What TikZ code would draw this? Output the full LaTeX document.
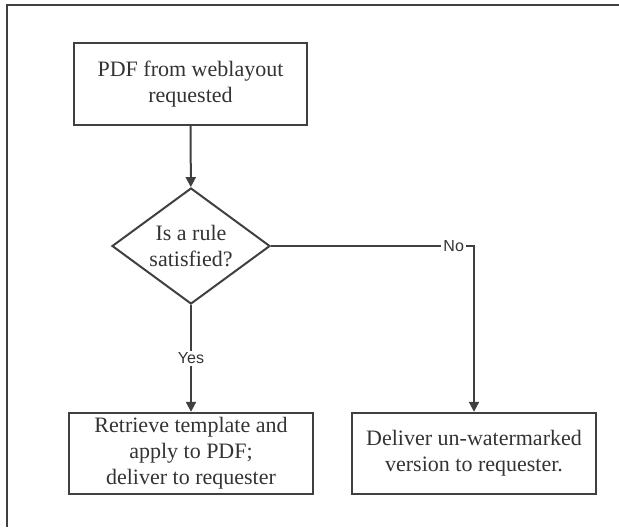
\documentclass[tikz,border=0pt]{standalone}
\usepackage{fontspec}
\setmainfont{Liberation Serif}
\setsansfont{Liberation Sans}
\usepackage{tikz}
\usetikzlibrary{arrows.meta, positioning, shapes.geometric}

\definecolor{linegray}{HTML}{404040}
\definecolor{textgray}{HTML}{333333}

\tikzset{
  stepbox/.style={draw=linegray, line width=1.2pt, align=center, text=textgray,
    minimum width=120pt, minimum height=40.5pt, inner sep=0pt,
    font=\fontsize{11}{13}\selectfont},
  decision/.style={diamond, draw=linegray, line width=1pt, align=center, text=textgray,
    aspect=1.5, inner sep=0pt, minimum width=79pt, minimum height=58pt,
    font=\fontsize{11}{13}\selectfont},
  flow/.style={draw=linegray, line width=1pt, -{Triangle[width=5pt,length=5pt]}},
  branch/.style={fill=white, inner sep=1pt, text=textgray,
    font=\sffamily\fontsize{8}{9}\selectfont}
}

\begin{document}
\begin{tikzpicture}[x=0.5pt, y=-0.5pt]
  \useasboundingbox (0,0) rectangle (619,527);
  % Frame
  \draw[linegray, line width=1pt] (7,527) -- (7,5) -- (619,5);
  % Steps
  \node[stepbox, minimum width=116.5pt, minimum height=41pt] (request) at (190.5,84)
    {PDF from weblayout\\requested};
  \node[decision] (rule) at (191,246) {Is a rule\\satisfied?};
  \node[stepbox, minimum width=122pt] (template) at (191,453.5)
    {Retrieve template and\\apply to PDF;\\deliver to requester};
  \node[stepbox, minimum width=122pt] (plain) at (474,453.5)
    {Deliver un-watermarked\\version to requester.};
  % Connectors
  \draw[flow] (request) -- (rule);
  \draw[flow] (rule) -- node[branch] {Yes} (template);
  \draw[flow] (rule.east) -| node[branch, pos=0.45] {No} (plain.north);
\end{tikzpicture}
\end{document}
